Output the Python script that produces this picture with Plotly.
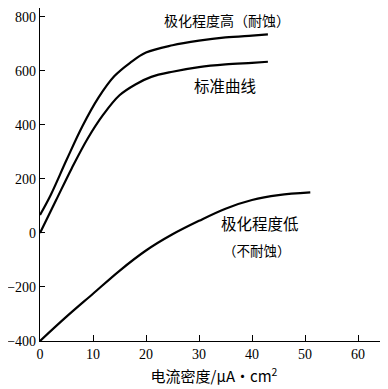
import plotly.graph_objects as go

# Data
x_high = [0, 2, 5, 8, 11, 14, 17, 20, 25, 30, 35, 40, 43]
y_high = [67, 140, 270, 395, 500, 580, 630, 668, 695, 712, 724, 731, 735]

x_std = [0, 3, 6, 9, 12, 15, 18, 21, 25, 30, 35, 40, 43]
y_std = [0, 120, 240, 350, 440, 510, 550, 578, 597, 614, 624, 630, 634]

x_low = [0, 5, 10, 15, 20, 25, 30, 35, 40, 45, 51]
y_low = [-400, -310, -225, -140, -65, -5, 45, 90, 122, 140, 150]

x_ticks = [0, 10, 20, 30, 40, 50, 60]
y_ticks = [-400, -200, 0, 200, 400, 600, 800]

labels = ["极化程度高（耐蚀）", "标准曲线", "极化程度低", "（不耐蚀）"]
label_x = [35.3, 34.9, 41.6, 40.9]
label_y = [789, 548, 37, -63]
label_size = [14, 15.5, 15.5, 13.5]

fig = go.Figure()
for xs, ys in [(x_high, y_high), (x_std, y_std), (x_low, y_low)]:
    fig.add_trace(go.Scatter(x=xs, y=ys, mode="lines", line=dict(color="black", width=2.2, shape="spline"),
                             showlegend=False, hoverinfo="skip"))

for t, lx, ly, sz in zip(labels, label_x, label_y, label_size):
    fig.add_annotation(x=lx, y=ly, text=t, showarrow=False,
                       font=dict(family="Noto Sans CJK SC", size=sz, color="black"))

fig.update_layout(
    width=380, height=381,
    margin=dict(l=32, r=0, t=0, b=48),
    paper_bgcolor="white", plot_bgcolor="white",
    font=dict(family="Liberation Serif", color="black", size=12),
    xaxis=dict(range=[0, 65.66], tickvals=x_ticks, ticks="inside", ticklen=6, tickcolor="black",
               showline=True, linecolor="black", linewidth=1.3, showgrid=False, zeroline=False,
               automargin=False,
               tickfont=dict(family="Liberation Serif", size=14),
               title=dict(text="电流密度/μA·cm<sup>2</sup>", font=dict(family="Noto Sans CJK SC", size=15), standoff=10)),
    yaxis=dict(range=[-400, 833], tickvals=y_ticks, ticks="inside", ticklen=5, tickcolor="black",
               showline=True, linecolor="black", linewidth=1.3, showgrid=False, zeroline=False,
               automargin=False,
               tickfont=dict(family="Liberation Serif", size=14)),
)

fig.write_html("out.html")
